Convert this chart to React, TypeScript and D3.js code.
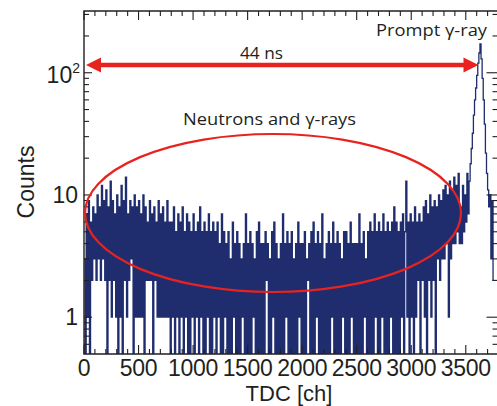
import { useEffect, useRef } from "react";
import * as d3 from "d3";

// TDC spectrum, counts per 10-channel bin
const binWidth = 10;
const counts = [
  3, 0, 7, 1, 9, 0, 6, 2, 8, 3,
  7, 2, 10, 3, 8, 2, 12, 3, 9, 2,
  11, 0, 8, 2, 13, 1, 9, 2, 7, 1,
  10, 0, 8, 1, 12, 0, 9, 2, 14, 1,
  7, 2, 9, 3, 8, 0, 10, 1, 8, 1,
  9, 1, 7, 1, 10, 0, 8, 2, 6, 2,
  9, 2, 7, 0, 8, 2, 6, 1, 9, 1,
  7, 1, 8, 1, 6, 1, 9, 1, 6, 0,
  6, 1, 8, 0, 5, 1, 7, 0, 6, 1,
  8, 0, 5, 1, 7, 0, 6, 0, 5, 1,
  7, 0, 5, 1, 6, 0, 8, 1, 5, 0,
  6, 0, 5, 1, 7, 0, 5, 0, 6, 1,
  5, 0, 6, 1, 4, 0, 7, 0, 5, 1,
  4, 0, 5, 0, 3, 0, 6, 1, 4, 0,
  5, 0, 4, 0, 3, 1, 4, 0, 7, 0,
  4, 0, 5, 0, 4, 1, 3, 0, 5, 0,
  6, 0, 4, 0, 4, 0, 5, 2, 4, 0,
  3, 0, 5, 1, 6, 0, 4, 0, 3, 0,
  4, 0, 7, 0, 4, 1, 5, 0, 4, 0,
  5, 0, 3, 0, 4, 0, 6, 1, 4, 0,
  4, 0, 5, 0, 3, 2, 4, 0, 5, 0,
  6, 0, 4, 1, 5, 0, 4, 0, 7, 0,
  3, 0, 4, 0, 5, 0, 4, 1, 6, 0,
  4, 0, 5, 0, 4, 0, 3, 1, 5, 0,
  5, 0, 4, 0, 6, 1, 4, 0, 4, 0,
  4, 0, 7, 0, 4, 0, 5, 1, 3, 0,
  5, 0, 6, 0, 5, 0, 7, 1, 5, 0,
  6, 0, 5, 1, 7, 0, 5, 0, 6, 0,
  5, 1, 6, 0, 8, 0, 6, 0, 5, 0,
  6, 1, 7, 0, 5, 13, 1, 6, 0, 7,
  1, 6, 0, 8, 1, 6, 2, 7, 0, 6,
  2, 8, 1, 9, 0, 7, 2, 10, 1, 8,
  2, 9, 0, 8, 3, 10, 2, 9, 3, 11,
  3, 12, 4, 10, 1, 13, 3, 11, 4, 14,
  4, 12, 5, 15, 4, 8, 4, 12, 5, 10,
  6, 15, 7, 13, 18, 24, 32, 45, 60, 75,
  95, 120, 145, 172, 130, 90, 60, 38, 22, 15,
  11, 8, 10, 3, 9, 2,
];

const xLabels = [0, 500, 1000, 1500, 2000, 2500, 3000, 3500];
const xMinor = d3.range(0, 3801, 100);
const yMajor = [1, 10, 100];
const yMinor = [0.6, 0.7, 0.8, 0.9, 2, 3, 4, 5, 6, 7, 8, 9, 20, 30, 40, 50, 60, 70, 80, 90, 200, 300];

const W = 497;
const H = 406;
const ink = "#231f20";
const navy = "#1f2d6e";
const red = "#e8231f";

const App = () => {
  const ref = useRef<SVGSVGElement | null>(null);

  useEffect(() => {
    const svg = d3.select(ref.current);
    svg.selectAll("*").remove();

    const left = 84, right = 498.5, top = 11, bottom = 354;
    const x = d3.scaleLinear().domain([0, 3800]).range([left, right]);
    const y = d3.scaleLog().domain([0.5, 320]).range([bottom, top]);

    svg.append("defs").append("clipPath").attr("id", "plotclip")
      .append("rect").attr("x", left).attr("y", top)
      .attr("width", right - left).attr("height", bottom - top);

    // histogram as step line
    const pts: [number, number][] = counts.map((c, i) => [i * binWidth, c]);
    pts.push([counts.length * binWidth, counts[counts.length - 1]]);
    const line = d3.line<[number, number]>()
      .x((d) => x(d[0]))
      .y((d) => y(Math.max(d[1], 0.3)))
      .curve(d3.curveStepAfter);

    svg.append("path")
      .attr("clip-path", "url(#plotclip)")
      .attr("d", line(pts))
      .attr("fill", "none")
      .attr("stroke", navy)
      .attr("stroke-width", 1.3);

    // frame
    const frame = svg.append("g").attr("stroke", ink).attr("stroke-width", 1.4).attr("fill", "none");
    frame.append("path").attr("d", `M${right},${top}H${left}V${bottom}H${right}`);

    // x ticks top and bottom
    const tk = svg.append("g").attr("stroke", ink).attr("stroke-width", 1.1);
    xMinor.forEach((v) => {
      const len = v % 500 === 0 ? 9 : 5;
      tk.append("line").attr("x1", x(v)).attr("x2", x(v)).attr("y1", bottom).attr("y2", bottom - len);
      tk.append("line").attr("x1", x(v)).attr("x2", x(v)).attr("y1", top).attr("y2", top + len);
    });
    // y ticks left and right
    yMajor.forEach((v) => {
      tk.append("line").attr("x1", left).attr("x2", left + 8).attr("y1", y(v)).attr("y2", y(v));
      tk.append("line").attr("x1", right).attr("x2", right - 12).attr("y1", y(v)).attr("y2", y(v));
    });
    yMinor.forEach((v) => {
      tk.append("line").attr("x1", left).attr("x2", left + 5).attr("y1", y(v)).attr("y2", y(v));
      tk.append("line").attr("x1", right).attr("x2", right - 6).attr("y1", y(v)).attr("y2", y(v));
    });

    const font = "'Liberation Sans', Arial, sans-serif";
    svg.append("g").selectAll("text").data(xLabels).join("text")
      .attr("x", (d) => x(d)).attr("y", 376)
      .attr("text-anchor", "middle")
      .attr("font-family", font).attr("font-size", 23).attr("letter-spacing", -0.3)
      .attr("fill", ink)
      .text((d) => d);

    const yl = svg.append("g").attr("font-family", font).attr("font-size", 23).attr("fill", ink);
    yl.append("text").attr("x", 78).attr("y", y(1) + 8).attr("text-anchor", "end").text("1");
    yl.append("text").attr("x", 78).attr("y", y(10) + 8).attr("text-anchor", "end").text("10");
    const t100 = yl.append("text").attr("x", 80).attr("y", y(100) + 10).attr("text-anchor", "end");
    t100.append("tspan").text("10");
    t100.append("tspan").attr("font-size", 14).attr("dy", -10).text("2");

    svg.append("text")
      .attr("transform", `translate(34,182) rotate(-90)`)
      .attr("text-anchor", "middle")
      .attr("font-family", font).attr("font-size", 23).attr("fill", ink)
      .text("Counts");
    svg.append("text")
      .attr("x", 289).attr("y", 401)
      .attr("text-anchor", "middle")
      .attr("font-family", font).attr("font-size", 22).attr("fill", ink)
      .text("TDC [ch]");

    // annotations
    svg.append("ellipse")
      .attr("cx", 273).attr("cy", 213).attr("rx", 188).attr("ry", 79)
      .attr("fill", "none").attr("stroke", red).attr("stroke-width", 2.2);

    const ay = 65;
    svg.append("line").attr("x1", 96).attr("x2", 468).attr("y1", ay).attr("y2", ay)
      .attr("stroke", red).attr("stroke-width", 4.6);
    svg.append("path").attr("d", `M86,${ay}L101,${ay - 7.5}L101,${ay + 7.5}Z`).attr("fill", red);
    svg.append("path").attr("d", `M478.5,${ay}L463.5,${ay - 7.5}L463.5,${ay + 7.5}Z`).attr("fill", red);

    const af = "'Open Sans', 'Noto Sans', sans-serif";
    const note = (tx: number, ty: number, len: number, s: string) =>
      svg.append("text").attr("x", tx).attr("y", ty)
        .attr("font-family", af).attr("font-size", 17).attr("fill", ink)
        .attr("textLength", len).attr("lengthAdjust", "spacingAndGlyphs")
        .text(s);
    note(376, 36, 111, "Prompt γ-ray");
    note(240, 58.5, 43, "44 ns");
    note(183, 125, 173, "Neutrons and γ-rays");
  }, []);

  return (
    <>
      <style>{"body{margin:0}"}</style>
      <svg ref={ref} width={W} height={H} style={{ display: "block", background: "#fff" }} />
    </>
  );
};

export default App;
